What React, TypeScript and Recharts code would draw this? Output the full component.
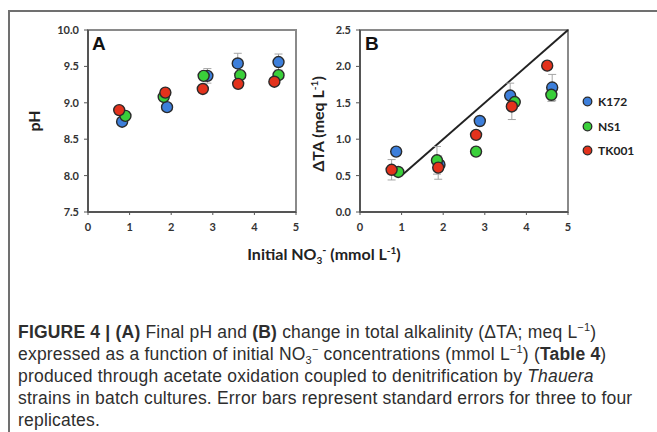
import React from "react";
import { ScatterChart, Scatter, XAxis, YAxis, ErrorBar, ReferenceArea, ReferenceLine } from "recharts";

// shared axis ticks
const xTicks = [0, 1, 2, 3, 4, 5];
const phTicks = [7.5, 8.0, 8.5, 9.0, 9.5, 10.0];
const taTicks = [0, 0.5, 1.0, 1.5, 2.0, 2.5];

const strains = ["K172", "NS1", "TK001"];
const strainColors = ["#3d7fdb", "#3acf3a", "#e3321c"];

// panel A — final pH: [initial NO3-, pH, s.e.]
const phK172 = [[0.82, 8.74, 0.03], [1.9, 8.94, 0.03], [2.87, 9.37, 0.1], [3.6, 9.54, 0.14], [4.58, 9.56, 0.11]];
const phNS1 = [[0.9, 8.82, 0.03], [1.82, 9.08, 0.03], [2.78, 9.37, 0.03], [3.66, 9.38, 0.03], [4.58, 9.38, 0.03]];
const phTK001 = [[0.75, 8.9, 0.03], [1.86, 9.14, 0.04], [2.76, 9.19, 0.03], [3.61, 9.26, 0.03], [4.48, 9.29, 0.03]];

// panel B — ΔTA (meq L-1): [initial NO3-, ΔTA, s.e.]
const taK172 = [[0.87, 0.83, 0.04], [1.91, 0.65, 0.04], [2.88, 1.25, 0.04], [3.61, 1.6, 0.17], [4.62, 1.71, 0.18]];
const taNS1 = [[0.92, 0.55, 0.05], [1.85, 0.71, 0.19], [2.79, 0.83, 0.04], [3.72, 1.51, 0.05], [4.6, 1.61, 0.09]];
const taTK001 = [[0.76, 0.58, 0.14], [1.88, 0.61, 0.16], [2.79, 1.06, 0.05], [3.65, 1.45, 0.18], [4.5, 2.01, 0.05]];

// 1:2 stoichiometric expectation line
const stoichLine = [{ x: 1, y: 0.5 }, { x: 5, y: 2.5 }];

const toPts = (rows: number[][]) => rows.map(([x, y, e]) => ({ x, y, e }));
const phSeries = [phK172, phNS1, phTK001].map(toPts);
const taSeries = [taK172, taNS1, taTK001].map(toPts);

const tickFont = { fontFamily: "Lato", fontWeight: 700, fontSize: 11, fill: "#333" };
const titleFont: React.CSSProperties = { fontFamily: "Lato", fontWeight: 700, fontSize: 16, color: "#222", whiteSpace: "nowrap" };

// super/subscripts that don't push the line box around
const sup = (t: string, size = 10, lift = 6) => (
  <span style={{ fontSize: size, lineHeight: 0, position: "relative", top: -lift }}>{t}</span>
);
const sub = (t: string, size = 10, drop = 4) => (
  <span style={{ fontSize: size, lineHeight: 0, position: "relative", top: drop }}>{t}</span>
);

const dot = (fill: string) => (p: any) => (
  <circle cx={p.cx} cy={p.cy} r={5.5} fill={fill} stroke="#2a2a2a" strokeWidth={1.4} />
);

function Panel({ series, ticks, domain, yAxisWidth, children }: any) {
  return (
    <ScatterChart width={yAxisWidth + 222} height={250} margin={{ top: 30, right: 14, bottom: 8, left: 0 }}>
      <XAxis
        type="number"
        dataKey="x"
        domain={[0, 5]}
        ticks={xTicks}
        height={30}
        tickSize={3}
        tickMargin={8}
        tick={tickFont}
        axisLine={{ stroke: "#555", strokeWidth: 2 }}
        tickLine={{ stroke: "#555" }}
      />
      <YAxis
        type="number"
        dataKey="y"
        domain={domain}
        ticks={ticks}
        width={yAxisWidth}
        tickSize={4}
        tickMargin={5}
        tick={tickFont}
        tickFormatter={(v: number) => v.toFixed(1)}
        axisLine={{ stroke: "#555", strokeWidth: 2 }}
        tickLine={{ stroke: "#555" }}
      />
      <ReferenceArea x1={0} x2={5} y1={domain[0]} y2={domain[1]} fill="none" stroke="#8a8a8a" strokeWidth={2} />
      {children}
      {series.map((pts: any[], i: number) => (
        <Scatter key={strains[i]} name={strains[i]} data={pts} shape={dot(strainColors[i])} isAnimationActive={false}>
          <ErrorBar dataKey="e" direction="y" width={4} stroke="#a5a5a5" strokeWidth={1} />
        </Scatter>
      ))}
    </ScatterChart>
  );
}

export default function App() {
  const abs = (left: number, top: number): React.CSSProperties => ({ position: "absolute", left, top });
  return (
    <div style={{ position: "absolute", left: 0, top: 0, width: 657, height: 432, background: "#fff", overflow: "hidden" }}>
      {/* figure frame */}
      <div style={{ position: "absolute", left: 8, top: 10, width: 649, height: 422, borderTop: "2px solid #707070", borderLeft: "2px solid #707070" }} />

      <div style={abs(0, 0)}>
        <Panel series={phSeries} ticks={phTicks} domain={[7.5, 10]} yAxisWidth={88} />
      </div>
      <div style={abs(300, 0)}>
        <Panel series={taSeries} ticks={taTicks} domain={[0, 2.5]} yAxisWidth={60}>
          <ReferenceLine segment={stoichLine} stroke="#222" strokeWidth={2} />
        </Panel>
      </div>

      {/* panel letters */}
      <div style={{ ...abs(92, 33), fontFamily: "Liberation Sans", fontWeight: 700, fontSize: 19, color: "#111" }}>A</div>
      <div style={{ ...abs(365, 33), fontFamily: "Liberation Sans", fontWeight: 700, fontSize: 19, color: "#111" }}>B</div>

      {/* axis titles */}
      <div style={{ ...titleFont, position: "absolute", left: 33, top: 121, transform: "translate(-50%,-50%) rotate(-90deg)" }}>pH</div>
      <div style={{ ...titleFont, position: "absolute", left: 317, top: 124, transform: "translate(-50%,-50%) rotate(-90deg)" }}>
        ΔTA (meq L{sup("-1", 10, 6)})
      </div>
      <div style={{ ...titleFont, position: "absolute", left: 324, top: 253, transform: "translate(-50%,-50%)" }}>
        Initial NO{sub("3", 10, 4)}{sup("-", 11, 6)} (mmol L{sup("-1", 10, 6)})
      </div>

      {/* legend */}
      {strains.map((s, i) => (
        <div key={s} style={{ ...abs(582, 94 + i * 24.5), display: "flex", alignItems: "center", gap: 5 }}>
          <svg width={11} height={11}>
            <circle cx={5.5} cy={5.5} r={4.3} fill={strainColors[i]} stroke="#2a2a2a" strokeWidth={1.3} />
          </svg>
          <span style={{ fontFamily: "Lato", fontWeight: 700, fontSize: 12, color: "#222" }}>{s}</span>
        </div>
      ))}

      {/* caption */}
      <div
        style={{
          position: "absolute",
          left: 18,
          top: 321,
          fontFamily: "Liberation Sans",
          fontSize: 17.5,
          letterSpacing: 0.2,
          lineHeight: "22px",
          color: "#2e2e2e",
          whiteSpace: "nowrap",
        }}
      >
        <div>
          <b>FIGURE 4 | (A)</b> Final pH and <b>(B)</b> change in total alkalinity (ΔTA; meq L{sup("−1", 11, 7)})
        </div>
        <div>
          expressed as a function of initial NO{sub("3", 11, 4)}{sup("−", 11, 7)} concentrations (mmol L{sup("−1", 11, 7)}) (<b>Table 4</b>)
        </div>
        <div>
          produced through acetate oxidation coupled to denitrification by <i>Thauera</i>
        </div>
        <div>strains in batch cultures. Error bars represent standard errors for three to four</div>
        <div>replicates.</div>
      </div>
    </div>
  );
}
